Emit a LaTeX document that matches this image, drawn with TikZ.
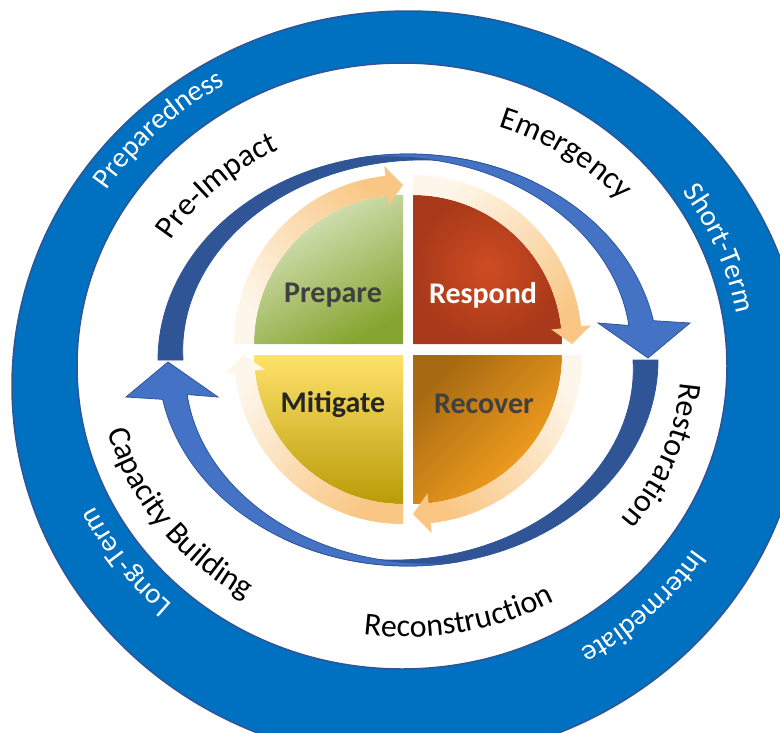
\documentclass[tikz,border=0pt]{standalone}
\usepackage{fontspec}
\setmainfont{Carlito}
\usetikzlibrary{decorations.text}

\definecolor{ringblue}{HTML}{0070C0}
\definecolor{ringedge}{HTML}{2F5597}
\definecolor{arrowdark}{HTML}{2F5597}
\definecolor{arrowlight}{HTML}{4472C4}
\definecolor{bandcream}{HTML}{FEF6EA}
\definecolor{bandorange}{HTML}{F9C683}
\definecolor{quadgray}{HTML}{404040}
\definecolor{quadblack}{HTML}{262626}
\definecolor{prepLight}{HTML}{DDE8C6}
\definecolor{prepDark}{HTML}{86A530}
\definecolor{respInner}{HTML}{CF4C22}
\definecolor{respOuter}{HTML}{A8391A}
\definecolor{recDark}{HTML}{A66A12}
\definecolor{recBright}{HTML}{FFA620}
\definecolor{mitTop}{HTML}{FFE26A}
\definecolor{mitMid}{HTML}{F7CC1C}
\definecolor{mitBottom}{HTML}{B99B08}
\newcommand{\ringfont}{\fontsize{29}{30}\selectfont}
\newcommand{\phasefont}{\fontsize{32}{34}\selectfont}

\begin{document}
\begin{tikzpicture}[x=1pt, y=1pt,
  ringband/.style={fill=ringblue, draw=ringedge, line width=1.5, even odd rule},
  arcdark/.style={fill=arrowdark, draw=arrowdark, line width=0.8},
  arclight/.style={fill=arrowlight, draw=arrowdark, line width=0.8},
  quadband/.style={top color=bandcream, bottom color=bandorange},
  quadtext/.style={font=\fontsize{30}{32}\selectfont\bfseries, inner sep=0pt}]
\useasboundingbox (0,0) rectangle (780,-732);
\clip (0,0) rectangle (780,-732);
% outer ring
\path[ringband] (408,-386) ellipse[x radius=396, y radius=375] (402,-366) ellipse[x radius=325, y radius=303];
% top curved arrow
\path[arcdark] plot[domain=180:60, samples=60, variable=\t] ({408+250*cos(\t)},{-360+206*sin(\t)})
  -- plot[domain=60:180, samples=60, variable=\t] ({408+(250-25*(\t-60)/120)*cos(\t)},{-360+(206-25*(\t-60)/120)*sin(\t)}) -- cycle;
\path[arclight] plot[domain=102:11, samples=60, variable=\t] ({408+250*cos(\t)},{-360+206*sin(\t)})
  -- (690,-323) -- (648,-358) -- (598,-323)
  -- plot[domain=11:102, samples=60, variable=\t] ({408+(225+25*(\t-11)/91)*cos(\t)},{-360+(181+25*(\t-11)/91)*sin(\t)}) -- cycle;
% bottom curved arrow
\begin{scope}[rotate around={180:(408,-360)}]
\path[arcdark] plot[domain=180:60, samples=60, variable=\t] ({408+250*cos(\t)},{-360+206*sin(\t)})
  -- plot[domain=60:180, samples=60, variable=\t] ({408+(250-25*(\t-60)/120)*cos(\t)},{-360+(206-25*(\t-60)/120)*sin(\t)}) -- cycle;
\path[arclight] plot[domain=102:11, samples=60, variable=\t] ({408+250*cos(\t)},{-360+206*sin(\t)})
  -- (690,-323) -- (648,-358) -- (598,-323)
  -- plot[domain=11:102, samples=60, variable=\t] ({408+(225+25*(\t-11)/91)*cos(\t)},{-360+(181+25*(\t-11)/91)*sin(\t)}) -- cycle;
\end{scope}
% quadrants
\begin{scope}[shift={(403,-344)}]
\shade[top color=prepLight, bottom color=prepDark, shading angle=30] (0,0) -- (180:149) arc[start angle=180, end angle=90, radius=149] -- cycle;
\shade[quadband, shading angle=135] (180:169) arc[start angle=180, end angle=96, radius=169] -- (96:179) -- (90:159) -- (96:139) -- (96:149) arc[start angle=96, end angle=180, radius=149] -- cycle;
\end{scope}
\begin{scope}[shift={(413,-344)}]
\shade[inner color=respInner, outer color=respOuter] (0,0) -- (90:149) arc[start angle=90, end angle=0, radius=149] -- cycle;
\shade[quadband, shading angle=45] (90:169) arc[start angle=90, end angle=6, radius=169] -- (6:179) -- (0:159) -- (6:139) -- (6:149) arc[start angle=6, end angle=90, radius=149] -- cycle;
\end{scope}
\begin{scope}[shift={(413,-355)}]
\shade[top color=recDark, bottom color=recBright, shading angle=45] (0,0) -- (0:149) arc[start angle=0, end angle=-90, radius=149] -- cycle;
\shade[quadband, shading angle=-45] (0:169) arc[start angle=0, end angle=-84, radius=169] -- (-84:179) -- (-90:159) -- (-84:139) -- (-84:149) arc[start angle=-84, end angle=0, radius=149] -- cycle;
\end{scope}
\begin{scope}[shift={(403,-355)}]
\shade[top color=mitTop, middle color=mitMid, bottom color=mitBottom] (0,0) -- (270:149) arc[start angle=270, end angle=180, radius=149] -- cycle;
\shade[quadband, shading angle=45] (270:169) arc[start angle=270, end angle=186, radius=169] -- (186:179) -- (180:159) -- (186:139) -- (186:149) arc[start angle=186, end angle=270, radius=149] -- cycle;
\end{scope}
%Text
\node[quadtext, text=quadgray] (prepare) at (333,-295) {Prepare};
\node[quadtext, text=white] (respond) at (483,-295) {Respond};
\node[quadtext, text=quadgray] (recover) at (484,-404) {Recover};
\node[quadtext, text=quadblack] (mitigate) at (333,-404) {Mitigate};
\path[decorate, decoration={text along path, text align=center, text color=white, text={|\ringfont|Preparedness}}]
  ({403+353*cos(164)},{-370+330*sin(164)}) arc[start angle=164, end angle=104, x radius=353, y radius=330];
\path[decorate, decoration={text along path, text align=center, text color=white, text={|\ringfont|Short-Term}}]
  ({403+339*cos(52)},{-370+316*sin(52)}) arc[start angle=52, end angle=-8, x radius=339, y radius=316];
\path[decorate, decoration={text along path, text align=center, text color=white, text={|\ringfont|Intermediate}}]
  ({403+348*cos(-16)},{-370+325*sin(-16)}) arc[start angle=-16, end angle=-76, x radius=348, y radius=325];
\path[decorate, decoration={text along path, text align=center, text color=white, text={|\ringfont|Long-Term}}]
  ({403+341*cos(246)},{-370+318*sin(246)}) arc[start angle=246, end angle=186, x radius=341, y radius=318];
\path[decorate, decoration={text along path, text align=center, text={|\phasefont|Pre-Impact}}]
  ({405+272*cos(164)},{-365+243*sin(164)}) arc[start angle=164, end angle=104, x radius=272, y radius=243];
\path[decorate, decoration={text along path, text align=center, text={|\phasefont|Emergency}}]
  ({405+283*cos(85)},{-365+253*sin(85)}) arc[start angle=85, end angle=25, x radius=283, y radius=253];
\path[decorate, decoration={text along path, text align=center, text={|\phasefont|Restoration}}]
  ({405+276*cos(9)},{-365+247*sin(9)}) arc[start angle=9, end angle=-51, x radius=276, y radius=247];
\path[decorate, decoration={text along path, text align=center, text={|\phasefont|Reconstruction}}]
  ({405+304*cos(-109)},{-365+272*sin(-109)}) arc[start angle=-109, end angle=-49, x radius=304, y radius=272];
\path[decorate, decoration={text along path, text align=center, text={|\phasefont|Capacity Building}}]
  ({405+306*cos(186)},{-365+274*sin(186)}) arc[start angle=186, end angle=246, x radius=306, y radius=274];
\end{tikzpicture}
\end{document}
